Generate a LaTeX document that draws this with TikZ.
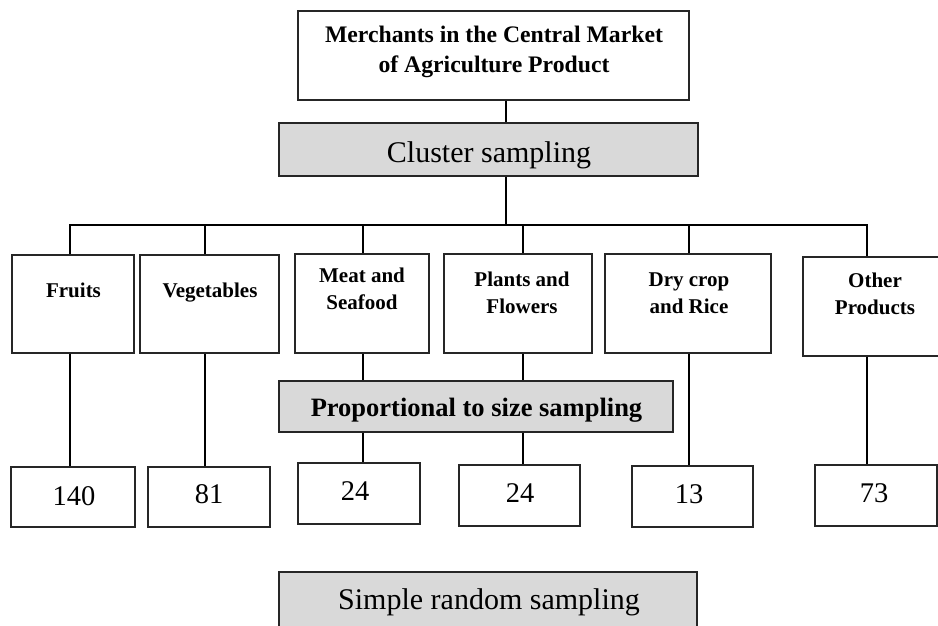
\documentclass[tikz,border=0pt]{standalone}
\usepackage{fontspec}
\setmainfont{Liberation Serif}
\definecolor{boxgray}{HTML}{D9D9D9}
\begin{document}
\begin{tikzpicture}[x=1pt,y=-1pt,
  box/.style={draw=black!85, line width=1.1pt, fill=white, inner sep=0pt},
  graybox/.style={box, fill=boxgray},
  conn/.style={line width=2.5pt, line join=miter},
  lbl/.style={inner sep=0pt, anchor=base, align=center},
  ttl/.style={lbl, font=\fontsize{23.7}{30.5}\selectfont\bfseries},
  big/.style={lbl, font=\fontsize{30}{34}\selectfont},
  cat/.style={lbl, font=\fontsize{21}{26.5}\selectfont\bfseries},
  prp/.style={lbl, font=\fontsize{26.5}{30}\selectfont\bfseries},
  num/.style={lbl, font=\fontsize{28.5}{32}\selectfont}
]
\useasboundingbox (0,0) rectangle (938,626);

% boxes
\node[box, minimum width=391pt, minimum height=89pt] (top) at (493.5,55.5) {};
\node[graybox, minimum width=419pt, minimum height=53pt] (cluster) at (488.5,149.5) {};
\node[box, minimum width=122pt, minimum height=98pt] (fruits) at (73,304) {};
\node[box, minimum width=139pt, minimum height=98pt] (veg) at (209.5,304) {};
\node[box, minimum width=134pt, minimum height=99pt] (meat) at (362,303.5) {};
\node[box, minimum width=148pt, minimum height=99pt] (plants) at (518,303.5) {};
\node[box, minimum width=166pt, minimum height=99pt] (dry) at (688,303.5) {};
\node[box, minimum width=136pt, minimum height=99pt] (other) at (871,306.5) {};
\node[graybox, minimum width=394pt, minimum height=51pt] (prop) at (476,406.5) {};
\node[box, minimum width=124pt, minimum height=60pt] (n1) at (73,497) {};
\node[box, minimum width=122pt, minimum height=60pt] (n2) at (209,497) {};
\node[box, minimum width=122pt, minimum height=61pt] (n3) at (359,493.5) {};
\node[box, minimum width=121pt, minimum height=61pt] (n4) at (519.5,495.5) {};
\node[box, minimum width=121pt, minimum height=61pt] (n5) at (692.5,496.5) {};
\node[box, minimum width=122pt, minimum height=61pt] (n6) at (876,495.5) {};
\node[graybox, minimum width=418pt, minimum height=55pt] (simple) at (488,599.5) {};

% texts (multi-line texts: base = baseline of last line)
\node[ttl] (topT) at (494,73) {Merchants in the Central Market\\of Agriculture Product};
\node[big] (clusterT) at (489,162) {Cluster sampling};
\node[cat] (fruitsT) at (73.5,297) {Fruits};
\node[cat] (vegT) at (210,297) {Vegetables};
\node[cat] (meatT) at (362,309) {Meat and\\Seafood};
\node[cat] (plantsT) at (522,313) {Plants and\\Flowers};
\node[cat] (dryT) at (689,313) {Dry crop\\and Rice};
\node[cat] (otherT) at (875,314) {Other\\Products};
\node[prp] (propT) at (476.5,416) {Proportional to size sampling};
\node[num] (n1T) at (74,505) {140};
\node[num] (n2T) at (209,503) {81};
\node[num] (n3T) at (355,500) {24};
\node[num] (n4T) at (520,502) {24};
\node[num] (n5T) at (689,503) {13};
\node[num] (n6T) at (874,502) {73};
\node[big] (simpleT) at (489,609) {Simple random sampling};

% connectors
\coordinate (trunk) at (506,225);
\coordinate (d1) at (70,225);
\coordinate (d2) at (205,225);
\coordinate (d3) at (363,225);
\coordinate (d4) at (523,225);
\coordinate (d5) at (689,225);
\coordinate (d6) at (867,225);
\draw[conn] (top.south -| trunk) -- (cluster.north -| trunk);
\draw[conn] (cluster.south -| trunk) -- (trunk);
\draw[conn] (d1 |- fruits.north) -- (d1) -- (d6) -- (d6 |- other.north);
\draw[conn] (d2) -- (d2 |- veg.north);
\draw[conn] (d3) -- (d3 |- meat.north);
\draw[conn] (d4) -- (d4 |- plants.north);
\draw[conn] (d5) -- (d5 |- dry.north);
\draw[conn] (d1 |- fruits.south) -- (d1 |- n1.north);
\draw[conn] (d2 |- veg.south) -- (d2 |- n2.north);
\draw[conn] (d3 |- meat.south) -- (d3 |- prop.north);
\draw[conn] (d3 |- prop.south) -- (d3 |- n3.north);
\draw[conn] (d4 |- plants.south) -- (d4 |- prop.north);
\draw[conn] (d4 |- prop.south) -- (d4 |- n4.north);
\draw[conn] (d5 |- dry.south) -- (d5 |- n5.north);
\draw[conn] (d6 |- other.south) -- (d6 |- n6.north);
\end{tikzpicture}
\end{document}
